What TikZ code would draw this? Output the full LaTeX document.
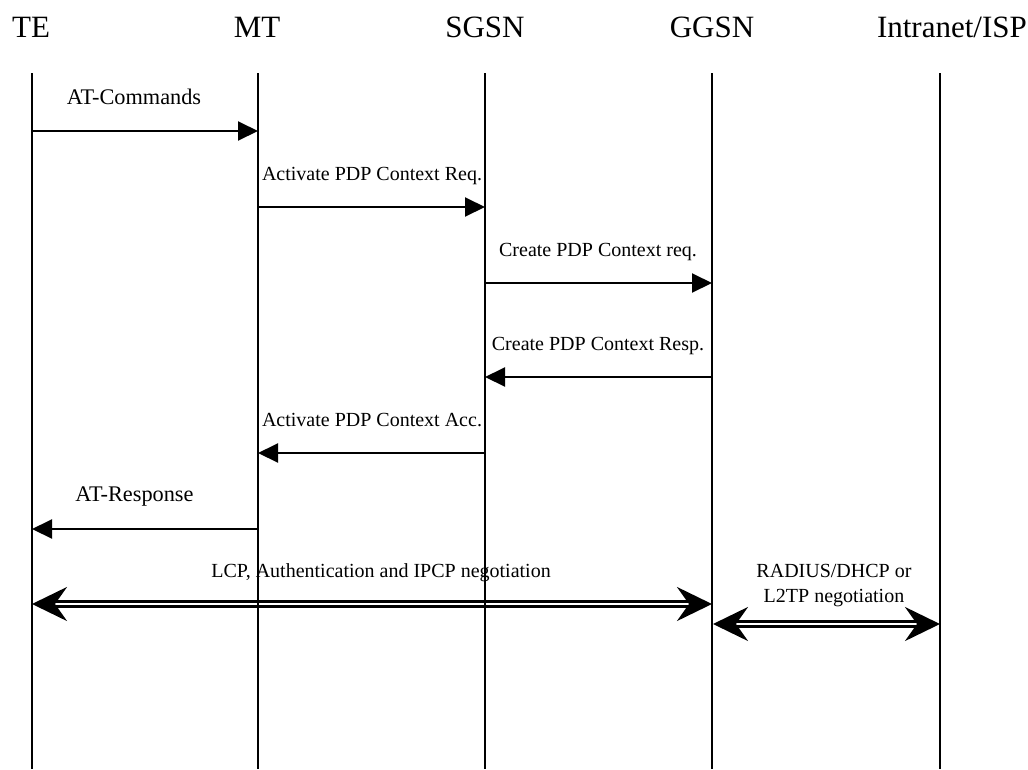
\documentclass[tikz,border=0pt]{standalone}
\usepackage{fontspec}
\setmainfont{Liberation Serif}
\usetikzlibrary{arrows.meta}
\begin{document}
\begin{tikzpicture}[x=1pt,y=-1pt,
  hdr/.style={anchor=base,inner sep=0pt,font=\fontsize{31}{36}\selectfont},
  lbl/.style={anchor=base,inner sep=0pt,font=\fontsize{20}{24}\selectfont},
  atlbl/.style={lbl,font=\fontsize{22.3}{26}\selectfont},
  life/.style={line width=2.4pt},
  msg/.style={line width=2pt,-{Triangle[length=20pt,width=19pt]}},
  dbl/.style={double,line width=2.8pt,double distance=2.6pt,
    {Stealth[length=35pt,width=34pt,inset=12pt]}-{Stealth[length=35pt,width=34pt,inset=12pt]}}]
\useasboundingbox (0,0) rectangle (1028,769);
% headers
\node[hdr] (hTE) at (31,37) {TE};
\node[hdr] (hMT) at (257,37) {MT};
\node[hdr] (hSG) at (485,37) {SGSN};
\node[hdr] (hGG) at (712,37) {GGSN};
\node[hdr,anchor=base east] (hIS) at (1027,37) {Intranet/ISP};
% lifeline ends
\foreach \n/\x in {te/32,mt/258,sg/485,gg/712,is/940}{
  \coordinate (\n top) at (\x,73);
  \coordinate (\n bot) at (\x,769);
}
% message points
\coordinate (te1) at (32,131);  \coordinate (mt1) at (258,131);
\coordinate (mt2) at (258,207); \coordinate (sg2) at (485,207);
\coordinate (sg3) at (485,283); \coordinate (gg3) at (712,283);
\coordinate (gg4) at (712,377); \coordinate (sg4) at (485,377);
\coordinate (sg5) at (485,453); \coordinate (mt5) at (258,453);
\coordinate (mt6) at (258,529); \coordinate (te6) at (32,529);
\coordinate (te7) at (32,604);  \coordinate (gg7) at (712,604);
\coordinate (gg8) at (713,624); \coordinate (is8) at (940,624);
% double arrows (under lifelines)
\draw[dbl] (te7) -- (gg7);
\draw[dbl] (gg8) -- (is8);
% lifelines
\foreach \n in {te,mt,sg,gg,is}{\draw[life] (\n top) -- (\n bot);}
% messages
\draw[msg] (te1) -- (mt1);
\draw[msg] (mt2) -- (sg2);
\draw[msg] (sg3) -- (gg3);
\draw[msg] (gg4) -- (sg4);
\draw[msg] (sg5) -- (mt5);
\draw[msg] (mt6) -- (te6);
% labels
\node[atlbl] (l1) at (134,104) {AT-Commands};
\node[lbl] (l2) at (372,180) {Activate PDP Context Req.};
\node[lbl] (l3) at (598,256) {Create PDP Context req.};
\node[lbl] (l4) at (598,350) {Create PDP Context Resp.};
\node[lbl] (l5) at (372,426) {Activate PDP Context Acc.};
\node[atlbl] (l6) at (134.5,501) {AT-Response};
\node[lbl] (l7) at (381,577) {LCP, Authentication and IPCP negotiation};
\node[lbl] (l8) at (834,577) {RADIUS/DHCP or};
\node[lbl] (l9) at (834,602) {L2TP negotiation};
\end{tikzpicture}
\end{document}
